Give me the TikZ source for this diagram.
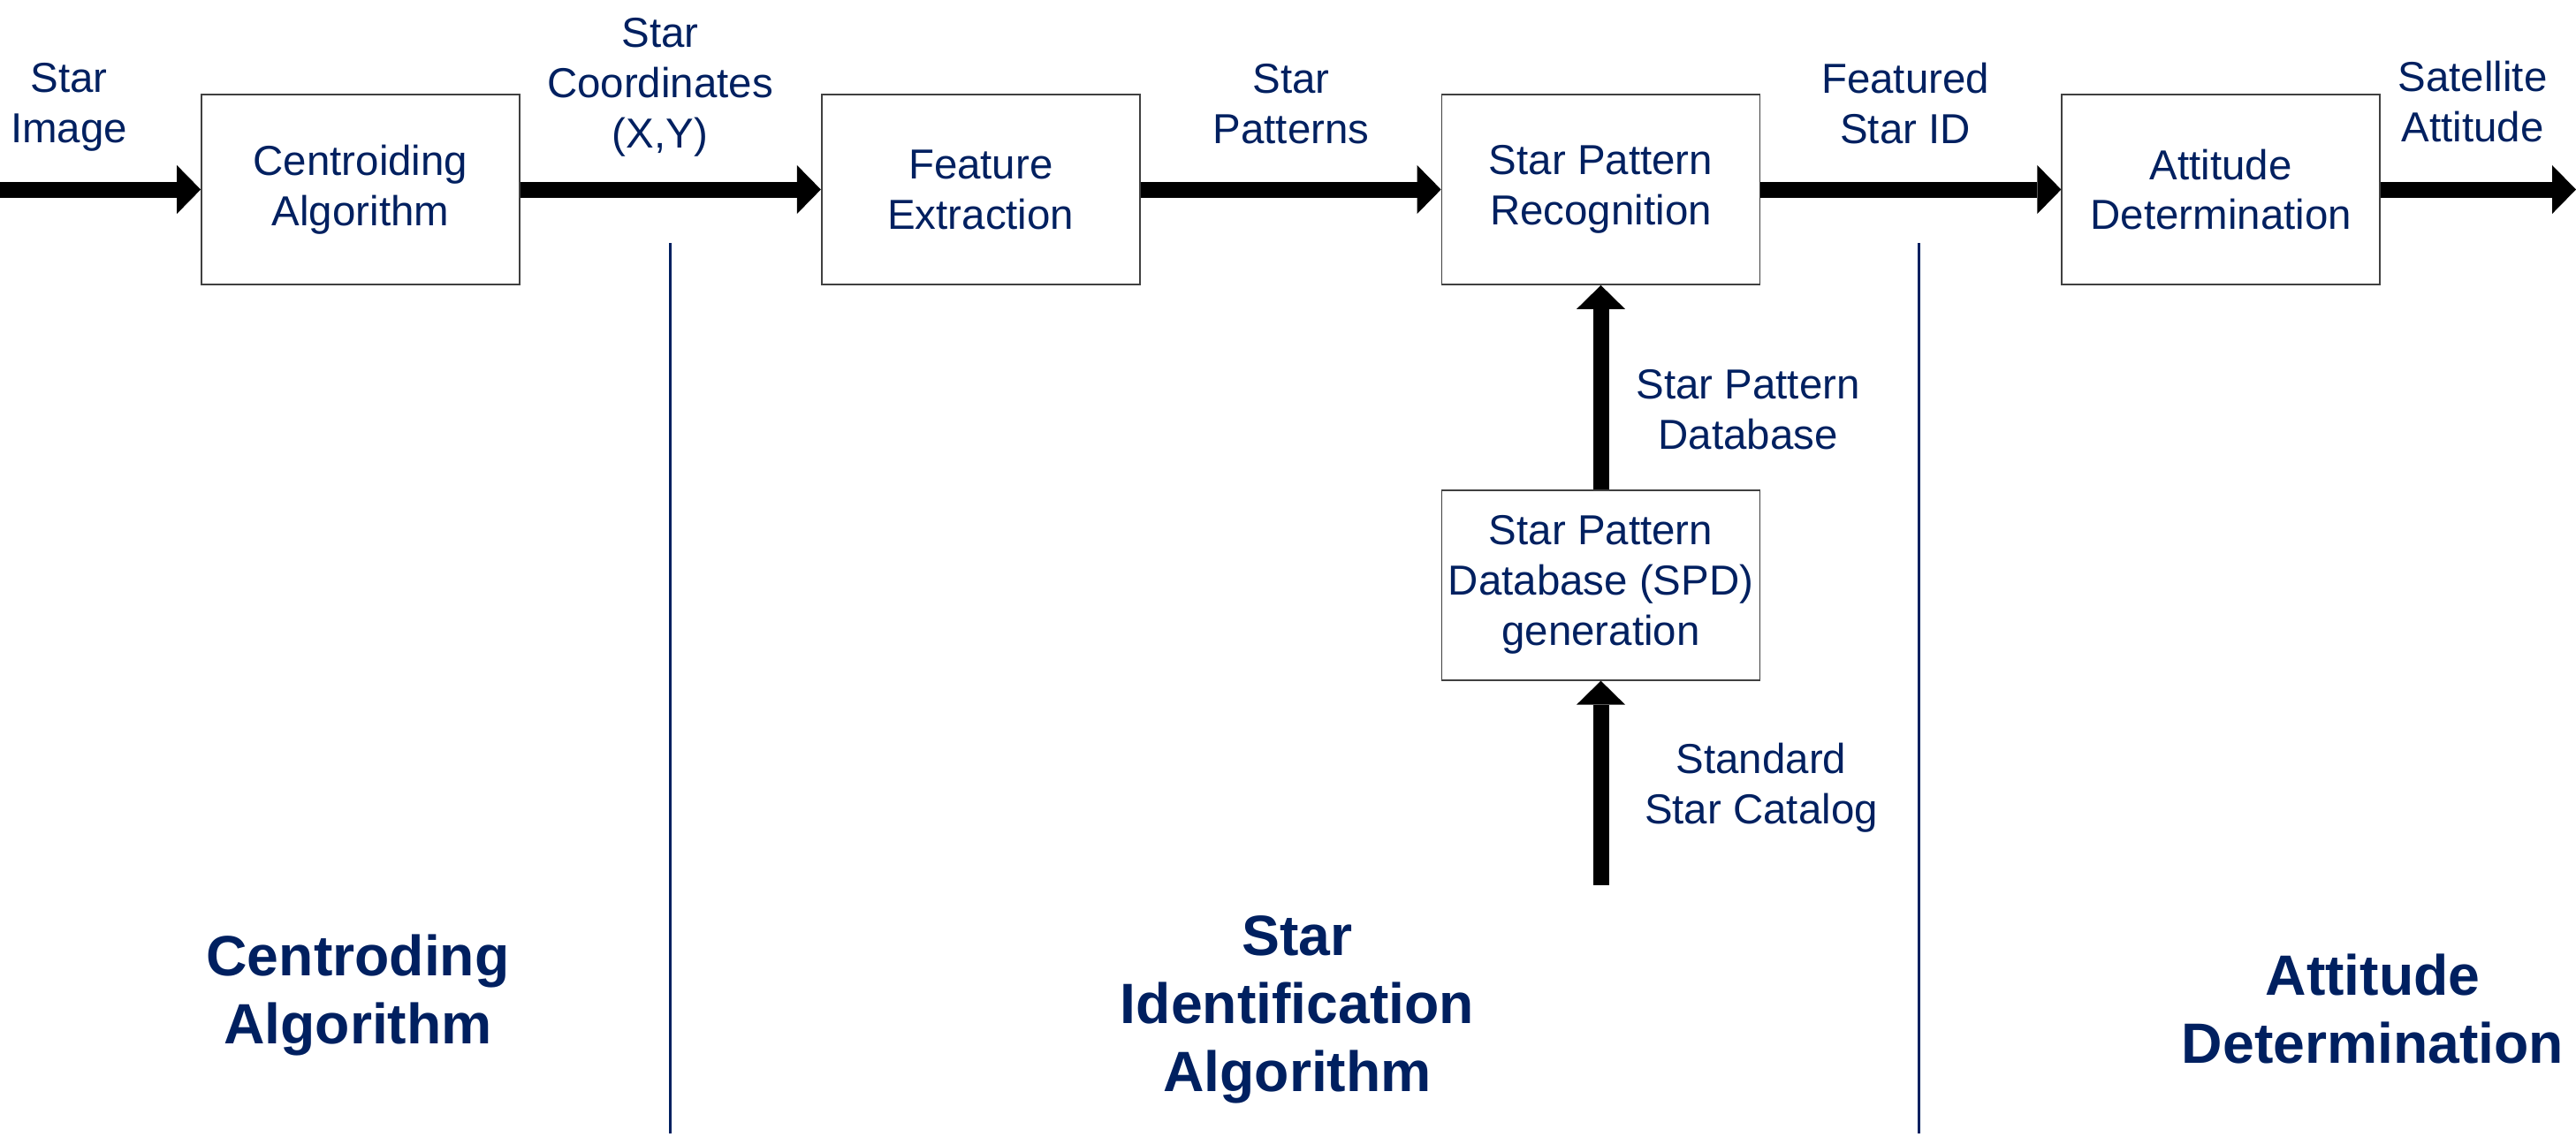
\documentclass[tikz,border=0pt]{standalone}
\usepackage{fontspec}
\setmainfont{Liberation Sans}
\usepackage{xcolor}
\usepackage{tikz}
\usetikzlibrary{arrows.meta, positioning}
\definecolor{starnavy}{RGB}{0, 32, 96}

\tikzset{
  block/.style={draw=black!75, line width=0.5pt, fill=white,
                minimum width=3.6cm, minimum height=2.15cm, inner sep=0pt,
                align=center, text=starnavy, font=\fontsize{13.5pt}{16.2pt}\selectfont},
  flow/.style={line width=0.18cm, -{Triangle[length=0.27cm, width=0.55cm, line width=0pt]}},
  lbl/.style={anchor=base, inner sep=0pt, align=center, text=starnavy,
              font=\fontsize{13.5pt}{16.2pt}\selectfont},
  phase/.style={lbl, font=\bfseries\fontsize{18.3pt}{21.9pt}\selectfont},
  divider/.style={draw=starnavy, line width=0.03cm}
}

\begin{document}
\begin{tikzpicture}
            \useasboundingbox (0,0) rectangle (29.15,-12.86);

            % processing chain
            \node[block] (cent) at (4.08,-2.145) {Centroiding\\Algorithm};
            \node[block, right=3.4cm of cent] (feat) {Feature\\Extraction};
            \node[block, right=3.4cm of feat] (spr) {Star Pattern\\Recognition};
            \node[block, right=3.4cm of spr] (att) {Attitude\\Determination};
            \node[block, below=2.31cm of spr] (spd) {Star Pattern\\Database (SPD)\\generation};

            \coordinate (imgin) at (0,-2.145);
            \coordinate (attout) at (29.15,-2.145);
            \coordinate (catin) at ([yshift=-2.31cm]spd.south);

            \draw[flow] (imgin) -- (cent);
            \draw[flow] (cent) -- (feat);
            \draw[flow] (feat) -- (spr);
            \draw[flow] (spr) -- (att);
            \draw[flow] (att) -- (attout);
            \draw[flow] (spd) -- (spr);
            \draw[flow] (catin) -- (spd);

            % signal labels (anchored on the last line)
            \node[lbl] (limg) at (0.78,-1.61) {Star\\Image};
            \node[lbl] (lcoord) at (7.47,-1.67) {Star\\Coordinates\\(X,Y)};
            \node[lbl] (lpat) at (14.61,-1.62) {Star\\Patterns};
            \node[lbl] (lid) at (21.56,-1.62) {Featured\\Star ID};
            \node[lbl] (latt) at (27.98,-1.60) {Satellite\\Attitude};
            \node[lbl] (ldb) at (19.78,-5.08) {Star Pattern\\Database};
            \node[lbl] (lcat) at (19.93,-9.32) {Standard\\Star Catalog};

            % stages
            \coordinate (d1top) at (7.58,-2.75);
            \coordinate (d1bot) at (7.58,-12.83);
            \coordinate (d2top) at (21.71,-2.75);
            \coordinate (d2bot) at (21.71,-12.83);
            \draw[divider] (d1top) -- (d1bot);
            \draw[divider] (d2top) -- (d2bot);

            \node[phase] (pcent) at (4.05,-11.81) {Centroding\\Algorithm};
            \node[phase] (pid) at (14.68,-12.35) {Star\\Identification\\Algorithm};
            \node[phase] (patt) at (26.85,-12.03) {Attitude\\Determination};
        \end{tikzpicture}
\end{document}
